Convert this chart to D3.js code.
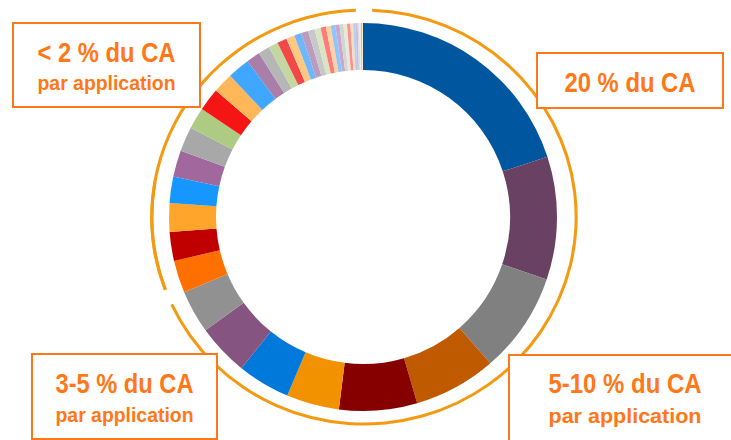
<!DOCTYPE html>
<html>
<head>
<meta charset="utf-8">
<style>
  body { margin: 0; background: #fff; }
  text { font-family: "Liberation Sans Narrow", "Arial Narrow", "Liberation Sans", Arial, sans-serif; font-weight: bold; }
</style>
</head>
<body>
<svg id="chart"></svg>
<script src="https://cdnjs.cloudflare.com/ajax/libs/d3/7.8.5/d3.min.js"></script>
<script>
// share of turnover (CA) per application, clockwise from 12 o'clock
var shares = [20, 10.25, 8.4, 6.9, 6.5, 4.4, 4.4, 4.3, 3.6, 2.7, 2.4, 2.4, 2.2, 2.2, 2.05, 1.8, 1.9, 1.7,
              1.85, 1.15, 0.95, 0.8, 0.8, 0.7, 0.6, 0.6, 0.55, 0.5, 0.45, 0.4,
              0.38, 0.35, 0.32, 0.3, 0.28, 0.22, 0.2, 0.18, 0.14, 0.12, 0.1, 0.08];

var colors = ["#01579F", "#694163", "#808080", "#C05A00", "#860000", "#F39200",
              "#0079DB", "#865480", "#919191", "#FF7000", "#C00000", "#FFA52B",
              "#1597FF", "#A0689C", "#A8A8A8", "#AECB83", "#F51515", "#FFB75A",
              "#3FA7FF", "#A97EA8", "#B6B6B6", "#C4D7A0", "#F24848", "#FFC880",
              "#6DB7FF", "#B99CC0", "#C8C8C8", "#D9E5C1", "#FF7A7A", "#FFD2A2",
              "#8EC5FF", "#C5AACB", "#D4D4D4", "#E2EBD3", "#FF9090", "#FFDDB8",
              "#A8D2FF", "#D0BCD6", "#DDDDDD", "#E8F0DE", "#FFA8A8", "#FFE6CC"];

// brackets round the ring: first and last slice index
var brackets = [[0, 4], [5, 8], [9, shares.length - 1]];

var labels = [["20 % du CA"], ["5-10 % du CA", "par application"],
              ["3-5 % du CA", "par application"], ["< 2 % du CA", "par application"]];

var W = 731, H = 440;
var cx = 363, cy = 217;
var orange = "#F39A12", boxOrange = "#FF7716";

var svg = d3.select("#chart").attr("width", W).attr("height", H);

var pie = d3.pie().sort(null).value(function(d){ return d; });
var slices = pie(shares);

var arc = d3.arc().innerRadius(147).outerRadius(194);

var g = svg.append("g").attr("transform", "translate(" + cx + "," + cy + ")");

g.selectAll("path.slice")
  .data(slices)
  .enter().append("path")
  .attr("class", "slice")
  .attr("d", arc)
  .attr("fill", function(d, i){ return colors[i]; });

// boxes (the font is wider than the original narrow face, so squeeze to width)
var boxes = [
  {x: 537, y: 53, w: 186, h: 55, lines: labels[0], ty: [92], tw: [131]},
  {x: 509, y: 355, w: 240, h: 100, lines: labels[1], ty: [393, 423], tw: [153, 153], tx: 625},
  {x: 32, y: 354, w: 185, h: 85, lines: labels[2], ty: [393, 422], tw: [138, 138]},
  {x: 13, y: 23, w: 187, h: 84, lines: labels[3], ty: [62, 90], tw: [138, 138]}
];

var bg = svg.selectAll("g.box").data(boxes).enter().append("g").attr("class", "box");
bg.append("rect")
  .attr("x", function(d){ return d.x; })
  .attr("y", function(d){ return d.y; })
  .attr("width", function(d){ return d.w; })
  .attr("height", function(d){ return d.h; })
  .attr("fill", "#fff")
  .attr("stroke", boxOrange)
  .attr("stroke-width", 2);

bg.each(function(d){
  var sel = d3.select(this);
  var tx = d.tx || (d.x + d.w / 2);
  d.lines.forEach(function(t, k){
    sel.append("text")
      .attr("x", tx)
      .attr("y", d.ty[k])
      .attr("text-anchor", "middle")
      .attr("fill", boxOrange)
      .attr("textLength", d.tw[k])
      .attr("lengthAdjust", "spacingAndGlyphs")
      .style("font-size", k === 0 ? "28px" : "21px")
      .text(t);
  });
});

// orange brackets outside the ring (slightly wider than tall, like the original)
var pad = 2.2 * Math.PI / 180;
var bracketArc = d3.arc().innerRadius(205.5).outerRadius(208.5);
var bracketData = [
  {startAngle: slices[brackets[0][0]].startAngle + pad, endAngle: slices[brackets[1][1]].endAngle - pad},
  {startAngle: slices[brackets[1][1] + 1].startAngle + pad, endAngle: slices[brackets[1][1] + 4].endAngle - pad},
  {startAngle: slices[brackets[2][0]].startAngle + pad, endAngle: slices[brackets[2][1]].endAngle - pad}
];
g.append("g")
  .attr("transform", "translate(1,0) scale(1.025,1)")
  .selectAll("path.bracket")
  .data(bracketData)
  .enter().append("path")
  .attr("class", "bracket")
  .attr("d", bracketArc)
  .attr("fill", orange);
</script>
</body>
</html>
